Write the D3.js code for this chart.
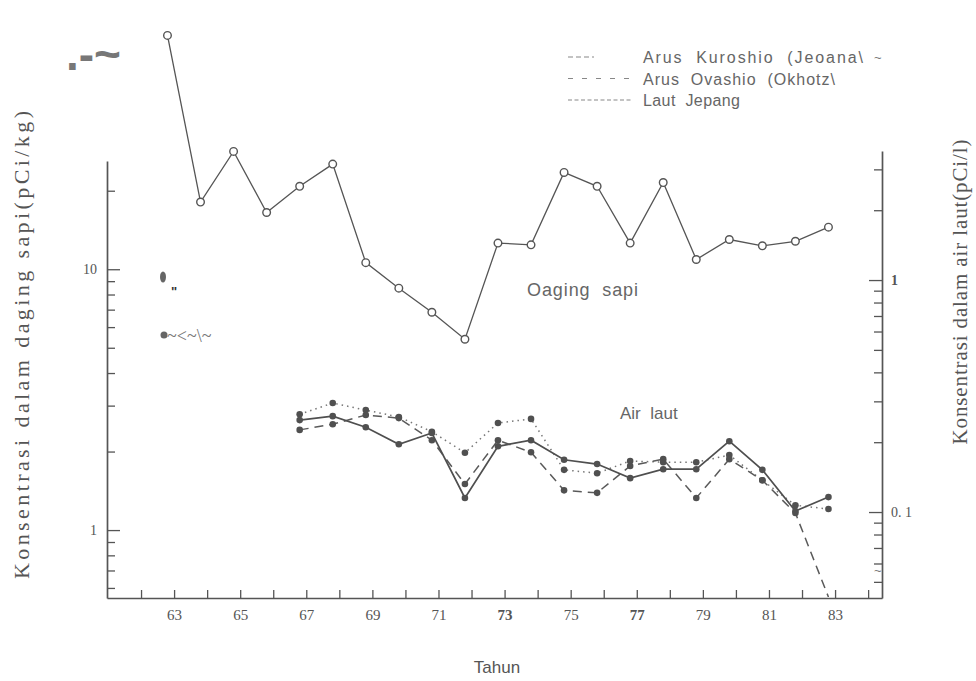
<!DOCTYPE html>
<html>
<head>
<meta charset="utf-8">
<script src="https://cdn.jsdelivr.net/npm/d3@7"></script>
<style>
  body { margin: 0; background: #fff; }
  svg { display: block; }
  .pre { white-space: pre; }
</style>
</head>
<body>
<svg id="chart" width="976" height="681"></svg>
<script>
// Tahun (years) and concentrations
const dagingYears = [62, 63, 64, 65, 66, 67, 68, 69, 70, 71, 72, 73, 74, 75, 76, 77, 78, 79, 80, 81, 82];
const dagingSapi  = [78.8, 18.1, 28.3, 16.5, 20.8, 25.3, 10.6, 8.46, 6.84, 5.39, 12.6, 12.4, 23.5, 20.8, 12.6, 21.5, 10.9, 13.0, 12.3, 12.8, 14.5];

const airYears   = [66, 67, 68, 69, 70, 71, 72, 73, 74, 75, 76, 77, 78, 79, 80, 81, 82];
const kuroshio   = [0.249, 0.259, 0.232, 0.196, 0.219, 0.115, 0.192, 0.204, 0.168, 0.161, 0.140, 0.153, 0.153, 0.202, 0.152, 0.101, 0.116];
const oyashio    = [0.226, 0.239, 0.262, 0.254, 0.204, 0.132, 0.204, 0.181, 0.124, 0.121, 0.158, 0.169, 0.115, 0.169, 0.137, 0.099, 0.043];
const lautJepang = [0.264, 0.295, 0.275, 0.257, 0.222, 0.180, 0.242, 0.252, 0.152, 0.147, 0.166, 0.164, 0.164, 0.176, 0.137, 0.107, 0.103];

const yearTicks  = [62, 63, 64, 65, 66, 67, 68, 69, 70, 71, 72, 73, 74, 75, 76, 77, 78, 79, 80, 81, 82, 83, 84];
const yearLabels = [63, 65, 67, 69, 71, 73, 75, 77, 79, 81, 83];
const boldYearLabels = [73, 77];
const leftMajor  = [1, 10];
const leftMinor  = [0.6, 0.7, 0.8, 0.9, 2, 3, 4, 5, 6, 7, 8, 9, 20];
const rightMajor = [0.1, 1];
const rightMajorLabels = ["0. 1", "1"];
const rightMinor = [0.05, 0.06, 0.07, 0.08, 0.09, 0.2, 0.3, 0.4, 0.5, 0.6, 0.7, 0.8, 0.9, 2, 3];

const legendItems = [
  { label: "Arus  Kuroshio  (Jeoana\\", dash: "5,3", len: 26, width: 220 },
  { label: "Arus  Ovashio  (Okhotz\\", dash: "5,9", len: 70, width: 192 },
  { label: "Laut  Jepang", dash: "4,2.5", len: 63, width: 97 }
];

// ---- layout ----
const INK = "#555";
const SERIF = "'Liberation Serif', 'DejaVu Serif', serif";
const SANS = "'Liberation Sans', Arial, sans-serif";
const AX_L = 107, AX_R = 882, AX_B = 598;
const PT_OFFSET = 0.8; // yearly samples sit late within each year interval

const svg = d3.select("#chart");

const x  = d3.scaleLinear().domain([60.97, 84.42]).range([AX_L, AX_R]);
const yL = d3.scaleLog().domain([0.549, 26]).range([AX_B, 161]);
const yR = d3.scaleLog().domain([0.0426, 3.6]).range([AX_B, 151]);

function styleAxis(g) {
  g.selectAll("path.domain").attr("stroke", INK).attr("stroke-width", 1.7);
  g.selectAll(".tick line").attr("stroke", INK).attr("stroke-width", 1.3);
  g.selectAll(".tick text").attr("fill", INK).attr("font-family", SERIF);
}

// x axis
const gx = svg.append("g").attr("transform", `translate(0,${AX_B})`)
  .call(d3.axisBottom(x).tickValues(yearTicks).tickSizeOuter(0).tickSizeInner(-8).tickPadding(9)
    .tickFormat(d => yearLabels.includes(d) ? String(d) : ""));
styleAxis(gx);
gx.selectAll(".tick text").attr("font-size", 15).attr("dy", "0.85em")
  .attr("font-weight", d => boldYearLabels.includes(d) ? "bold" : "normal");

// left axis
const gl = svg.append("g").attr("transform", `translate(${AX_L},0)`)
  .call(d3.axisLeft(yL).tickValues(leftMajor).tickSizeOuter(0).tickSizeInner(-13).tickPadding(10)
    .tickFormat(d3.format("d")));
styleAxis(gl);
gl.selectAll(".tick text").attr("font-size", 14);
const glm = svg.append("g").attr("transform", `translate(${AX_L},0)`)
  .call(d3.axisLeft(yL).tickValues(leftMinor).tickSizeOuter(0).tickSizeInner(-8).tickFormat(""));
styleAxis(glm);
glm.select("path.domain").remove();

// right axis
const gr = svg.append("g").attr("transform", `translate(${AX_R},0)`)
  .call(d3.axisRight(yR).tickValues(rightMajor).tickSizeOuter(0).tickSizeInner(-13).tickPadding(9)
    .tickFormat((d, i) => rightMajorLabels[i]));
styleAxis(gr);
gr.selectAll(".tick text").attr("font-size", 14).attr("font-weight", (d, i) => i === 1 ? "bold" : "normal");
const grm = svg.append("g").attr("transform", `translate(${AX_R},0)`)
  .call(d3.axisRight(yR).tickValues(rightMinor).tickSizeOuter(0).tickSizeInner(-8).tickFormat(""));
styleAxis(grm);
grm.select("path.domain").remove();

// axis titles
svg.append("text")
  .attr("transform", "translate(29,345) rotate(-90)")
  .attr("text-anchor", "middle").attr("font-family", SERIF).attr("font-size", 22)
  .attr("fill", INK).attr("textLength", 468).attr("lengthAdjust", "spacing")
  .text("Konsentrasi dalam daging sapi(pCi/kg)");
svg.append("text")
  .attr("transform", "translate(967,292) rotate(-90)")
  .attr("text-anchor", "middle").attr("font-family", SERIF).attr("font-size", 21)
  .attr("fill", INK).attr("textLength", 305).attr("lengthAdjust", "spacing")
  .text("Konsentrasi dalam air laut(pCi/l)");
svg.append("text")
  .attr("x", 497).attr("y", 673).attr("text-anchor", "middle")
  .attr("font-family", SANS).attr("font-size", 17).attr("fill", INK)
  .text("Tahun");

// plot clip
svg.append("clipPath").attr("id", "plot")
  .append("rect").attr("x", AX_L).attr("y", 0).attr("width", AX_R - AX_L).attr("height", AX_B - 1);
const plot = svg.append("g").attr("clip-path", "url(#plot)");

// beef series (left axis)
const beef = dagingYears.map((yr, i) => ({ yr, v: dagingSapi[i] }));
const lineL = d3.line().x(d => x(d.yr + PT_OFFSET)).y(d => yL(d.v));
plot.append("path").datum(beef).attr("d", lineL)
  .attr("fill", "none").attr("stroke", INK).attr("stroke-width", 1.3);
plot.selectAll("circle.beef").data(beef).join("circle").attr("class", "beef")
  .attr("cx", d => x(d.yr + PT_OFFSET)).attr("cy", d => yL(d.v)).attr("r", 3.8)
  .attr("fill", "#fff").attr("stroke", INK).attr("stroke-width", 1.4);

// sea water series (right axis)
const seaSeries = [
  { values: lautJepang, dash: "1.5,4", width: 1.5, color: "#777" },
  { values: oyashio,    dash: "9,6",   width: 1.5, color: "#5a5a5a" },
  { values: kuroshio,   dash: null,    width: 1.7, color: "#4f4f4f" }
];
const lineR = d3.line().x(d => x(d.yr + PT_OFFSET)).y(d => yR(d.v));
seaSeries.forEach((s, k) => {
  const pts = airYears.map((yr, i) => ({ yr, v: s.values[i] }));
  plot.append("path").datum(pts).attr("d", lineR)
    .attr("fill", "none").attr("stroke", s.color).attr("stroke-width", s.width)
    .attr("stroke-dasharray", s.dash);
  plot.selectAll(`circle.sea${k}`).data(pts.filter(d => d.v > yR.domain()[0] * 1.05))
    .join("circle").attr("class", `sea${k}`)
    .attr("cx", d => x(d.yr + PT_OFFSET)).attr("cy", d => yR(d.v)).attr("r", 3.3)
    .attr("fill", "#505050");
});

// series captions
svg.append("text").attr("class", "pre").attr("x", 527).attr("y", 296)
  .attr("font-family", SANS).attr("font-size", 18).attr("fill", "#666")
  .attr("textLength", 111).attr("lengthAdjust", "spacing").text("Oaging  sapi");
svg.append("text").attr("class", "pre").attr("x", 620).attr("y", 419)
  .attr("font-family", SANS).attr("font-size", 17).attr("fill", "#666")
  .text("Air  laut");

// legend
const lg = svg.append("g");
legendItems.forEach((it, i) => {
  const yy = 57 + i * 21.5;
  lg.append("line").attr("x1", 568).attr("x2", 568 + it.len).attr("y1", yy).attr("y2", yy)
    .attr("stroke", "#888").attr("stroke-width", 1.2).attr("stroke-dasharray", it.dash);
  lg.append("text").attr("class", "pre").attr("x", 643).attr("y", yy + 6)
    .attr("font-family", SANS).attr("font-size", 16).attr("fill", "#666")
    .attr("textLength", it.width).attr("lengthAdjust", "spacing")
    .text(it.label);
});

// stray marks on the sheet
svg.append("text").attr("x", 66).attr("y", 70)
  .attr("font-family", SANS).attr("font-size", 46).attr("font-weight", "bold").attr("fill", "#777")
  .text(".-~");
svg.append("text").attr("x", 874).attr("y", 62).attr("font-family", SANS).attr("font-size", 13).attr("fill", "#777").text("~");
svg.append("text").attr("x", 874).attr("y", 575).attr("font-family", SANS).attr("font-size", 13).attr("fill", "#777").text("~");
svg.append("ellipse").attr("cx", 163).attr("cy", 277).attr("rx", 3).attr("ry", 5.5).attr("fill", "#666");
svg.append("text").attr("x", 171).attr("y", 296).attr("font-family", SANS).attr("font-size", 13).attr("font-weight", "bold").attr("fill", "#333").text("\"");
svg.append("circle").attr("cx", 164).attr("cy", 335).attr("r", 3.5).attr("fill", "#666");
svg.append("text").attr("x", 167).attr("y", 342).attr("font-family", SERIF).attr("font-size", 18).attr("fill", "#777").text("~<~\\~");
</script>
</body>
</html>
